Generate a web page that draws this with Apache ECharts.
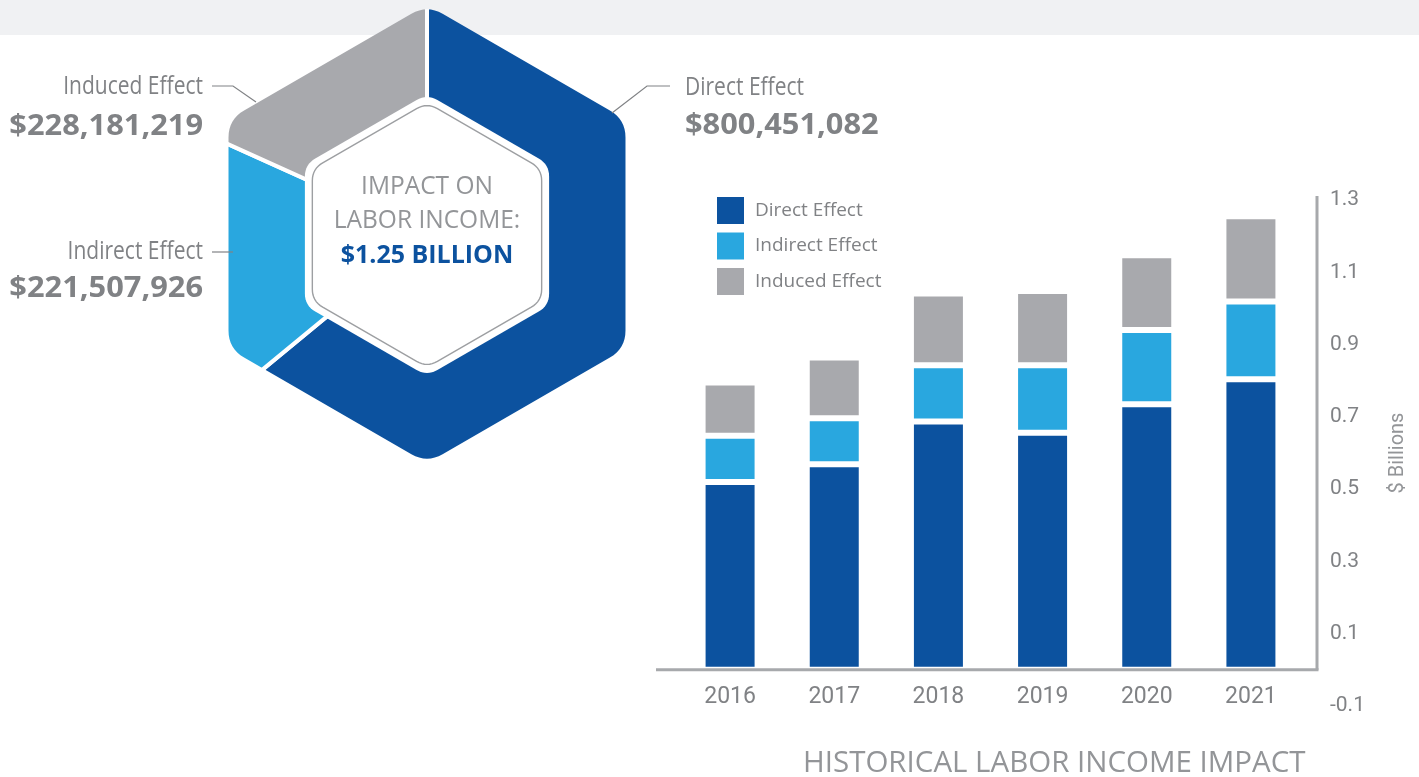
<!DOCTYPE html>
<html>
<head>
<meta charset="utf-8">
<script src="https://cdn.jsdelivr.net/npm/echarts@6/dist/echarts.min.js"></script>
<style>
  html, body { margin: 0; padding: 0; background: #fff; }
  #main { width: 1419px; height: 777px; }
</style>
</head>
<body>
<div id="main"></div>
<script>
// ---- data ----
const years = ["2016", "2017", "2018", "2019", "2020", "2021"];
const directByYear = [0.520, 0.569, 0.687, 0.656, 0.735, 0.804];
const indirectByYear = [0.128, 0.127, 0.156, 0.187, 0.205, 0.215];
const inducedByYear = [0.147, 0.168, 0.198, 0.205, 0.207, 0.236];
const effectNames = ["Direct Effect", "Indirect Effect", "Induced Effect"];
const effectIncome = [800451082, 221507926, 228181219];
const yMin = -0.1;
const yMax = 1.3;
const yStep = 0.2;

// ---- styles ----
const colors = ["#0c529f", "#29a7df", "#a8a9ad"];
const textGray = "#808285";
const lightGray = "#939598";
const regular = '"Open Sans", "Noto Sans", sans-serif';
const axisFont = 'Roboto, "Open Sans", sans-serif';
const hexC = [427, 234];

// rounded hexagon (pointy top) as points, clockwise from the top corner middle
function hexPoints(cx, cy, R, d) {
  const v = [];
  for (let k = 0; k < 6; k++) {
    const a = (k * Math.PI) / 3;
    v.push([cx + R * Math.sin(a), cy - R * Math.cos(a)]);
  }
  const pts = [];
  for (let k = 0; k < 6; k++) {
    const P = v[(k + 5) % 6], V = v[k], N = v[(k + 1) % 6];
    const lp = Math.hypot(P[0] - V[0], P[1] - V[1]);
    const ln = Math.hypot(N[0] - V[0], N[1] - V[1]);
    const A = [V[0] + ((P[0] - V[0]) * d) / lp, V[1] + ((P[1] - V[1]) * d) / lp];
    const B = [V[0] + ((N[0] - V[0]) * d) / ln, V[1] + ((N[1] - V[1]) * d) / ln];
    for (let s = 0; s <= 8; s++) {
      const t = s / 8;
      pts.push([
        (1 - t) * (1 - t) * A[0] + 2 * (1 - t) * t * V[0] + t * t * B[0],
        (1 - t) * (1 - t) * A[1] + 2 * (1 - t) * t * V[1] + t * t * B[1],
      ]);
    }
  }
  return pts.slice(4).concat(pts.slice(0, 5));
}

function money(v) {
  return "$" + v.toLocaleString("en-US");
}

// text element, sx squeezes/stretches it horizontally around its anchor
function label(text, x, y, align, font, fill, sx) {
  return {
    type: "text", z: 13, x: x, y: y, scaleX: sx || 1,
    style: { text: text, x: 0, y: 0, textAlign: align, textVerticalAlign: "middle", font: font, fill: fill },
  };
}

const chart = echarts.init(document.getElementById("main"));

chart.setOption({
  animation: false,
  backgroundColor: "#fff",
  title: {
    text: "HISTORICAL LABOR INCOME IMPACT",
    left: 803,
    top: 749,
    padding: 0,
    textStyle: { fontFamily: regular, fontWeight: "normal", fontSize: 29.5, color: lightGray },
  },
  legend: {
    orient: "vertical",
    left: 717,
    top: 197,
    padding: 0,
    itemWidth: 27,
    itemHeight: 27,
    itemGap: 8.5,
    icon: "rect",
    selectedMode: false,
    data: effectNames,
    itemStyle: { borderWidth: 0 },
    textStyle: { fontFamily: regular, fontSize: 19, color: textGray, padding: [0, 0, 0, 6] },
  },
  grid: { left: 678, right: 116, top: 200, bottom: 71 },
  xAxis: {
    type: "category",
    data: years,
    axisLine: { show: false },
    axisTick: { show: false },
    axisLabel: { margin: 16, fontFamily: axisFont, fontSize: 23, color: textGray },
  },
  yAxis: {
    type: "value",
    position: "right",
    offset: 14,
    min: yMin,
    max: yMax,
    interval: yStep,
    axisLine: { show: false },
    axisTick: { show: false },
    splitLine: { show: false },
    axisLabel: {
      margin: 13,
      fontFamily: axisFont,
      fontSize: 21,
      color: textGray,
      formatter: (v) => v.toFixed(1),
    },
    name: "$ Billions",
    nameLocation: "middle",
    nameRotate: 90,
    nameGap: 71,
    nameTextStyle: { fontFamily: axisFont, fontSize: 20, color: lightGray },
  },
  series: [
    {
      type: "pie",
      center: hexC,
      radius: [0, 236],
      startAngle: 90,
      clockwise: true,
      silent: true,
      z: 2,
      label: { show: false },
      labelLine: { show: false },
      itemStyle: { borderColor: "#fff", borderWidth: 4 },
      data: effectNames.map((n, i) => ({ name: n, value: effectIncome[i], itemStyle: { color: colors[i] } })),
    },
    { name: effectNames[0], type: "bar", stack: "total", barWidth: 55, data: directByYear },
    { name: effectNames[1], type: "bar", stack: "total", barWidth: 55, data: indirectByYear },
    { name: effectNames[2], type: "bar", stack: "total", barWidth: 55, data: inducedByYear },
  ].map((s, i) => {
    if (s.type === "bar") {
      s.silent = true;
      s.itemStyle = { color: colors[i - 1], borderColor: "#fff", borderWidth: 3 };
    }
    return s;
  }),
});

// the category axis sits on the zero line
const zeroY = chart.convertToPixel({ yAxisIndex: 0 }, 0);
const topY = chart.convertToPixel({ yAxisIndex: 0 }, yMax);
const minY = chart.convertToPixel({ yAxisIndex: 0 }, yMin);
chart.setOption({ xAxis: { offset: zeroY - minY } });

// mask outside the outer hexagon (keyhole polygon), band colour on top
const outer = hexPoints(hexC[0], hexC[1], 229.2, 18);
const hole = outer.slice().reverse();
const m = 245;
const maskPts = [
  [hexC[0], hexC[1] - m],
  [hexC[0] + m, hexC[1] - m],
  [hexC[0] + m, hexC[1] + m],
  [hexC[0] - m, hexC[1] + m],
  [hexC[0] - m, hexC[1] - m],
  [hexC[0], hexC[1] - m],
].concat(hole);

const bandFill = {
  type: "linear", x: 0, y: 0, x2: 0, y2: 777, global: true,
  colorStops: [
    { offset: 0, color: "#f0f1f3" },
    { offset: 35 / 777, color: "#f0f1f3" },
    { offset: 35 / 777, color: "#ffffff" },
    { offset: 1, color: "#ffffff" },
  ],
};

const total = effectIncome.reduce((a, b) => a + b, 0);
const nameFont = "25px " + regular;
const valueFont = "bold 28px " + regular;
const lineStyle = { stroke: textGray, lineWidth: 1.2, fill: null };

chart.setOption({
  graphic: [
    { type: "rect", z: 0, shape: { x: 0, y: 0, width: 1419, height: 35 }, style: { fill: "#f0f1f3" } },
    { type: "polygon", z: 10, silent: true, shape: { points: maskPts }, style: { fill: bandFill } },
    { type: "polygon", z: 11, shape: { points: hexPoints(427, 235, 141, 12) }, style: { fill: "#fff" } },
    {
      type: "polygon", z: 12, shape: { points: hexPoints(427, 235, 132.4, 12) },
      style: { fill: "#fff", stroke: "#9d9fa2", lineWidth: 1.4 },
    },
    label("IMPACT ON", 427, 187, "center", "25px " + regular, lightGray, 0.98),
    label("LABOR INCOME:", 427, 221, "center", "25px " + regular, lightGray, 0.98),
    label("$" + (total / 1e9).toFixed(2) + " BILLION", 427, 256, "center", "bold 25px " + regular, colors[0], 1),

    label(effectNames[0], 685, 88, "left", nameFont, textGray, 0.84),
    label(money(effectIncome[0]), 685, 126, "left", valueFont, textGray, 1.1),
    label(effectNames[2], 203, 87, "right", nameFont, textGray, 0.84),
    label(money(effectIncome[2]), 203, 127, "right", valueFont, textGray, 1.1),
    label(effectNames[1], 203, 252, "right", nameFont, textGray, 0.84),
    label(money(effectIncome[1]), 203, 289, "right", valueFont, textGray, 1.1),

    { type: "polyline", z: 13, shape: { points: [[670, 86], [647, 86], [612, 113]] }, style: lineStyle },
    { type: "polyline", z: 13, shape: { points: [[212, 86], [233, 86], [256, 102]] }, style: lineStyle },
    { type: "polyline", z: 13, shape: { points: [[212, 252], [233, 252]] }, style: lineStyle },

    { type: "line", z: 5, shape: { x1: 656, y1: zeroY, x2: 1318.5, y2: zeroY }, style: { stroke: "#a7a9ac", lineWidth: 3 } },
    { type: "line", z: 5, shape: { x1: 1317, y1: topY - 4, x2: 1317, y2: zeroY }, style: { stroke: "#a7a9ac", lineWidth: 3 } },
  ],
});
</script>
</body>
</html>
